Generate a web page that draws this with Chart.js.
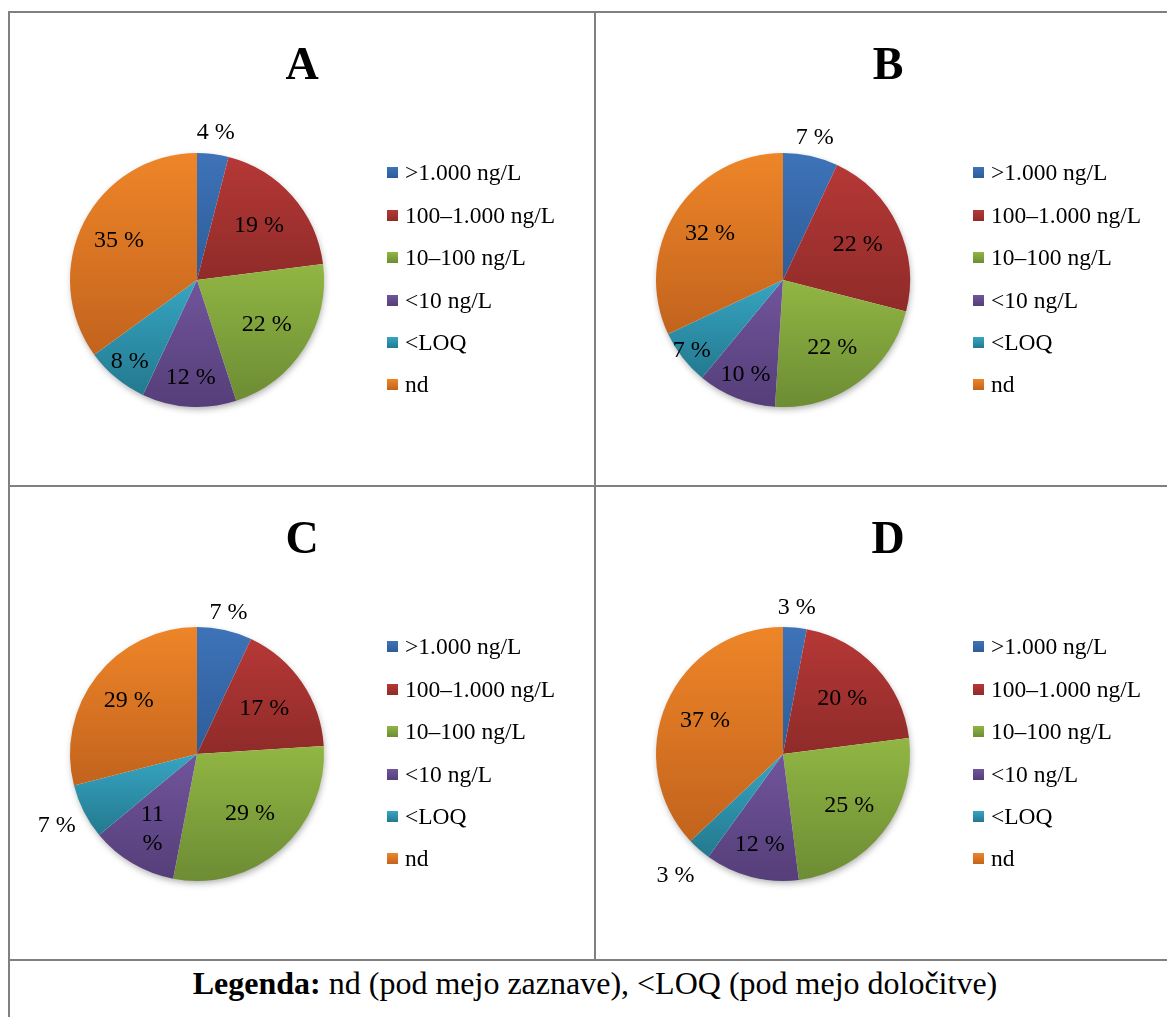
<!DOCTYPE html>
<html>
<head>
<meta charset="utf-8">
<title>Pie charts A–D</title>
<script src="https://cdn.jsdelivr.net/npm/chart.js@4.4.1/dist/chart.umd.min.js"></script>
<style>
  html, body { margin: 0; padding: 0; background: #fff; overflow: hidden; }
  body { width: 1167px; height: 1017px; position: relative; font-family: "Liberation Serif", "Times New Roman", serif; color: #000; }
  .rule { position: absolute; background: #808080; }
  .cell { position: absolute; width: 584px; height: 472px; }
  .cell canvas { position: absolute; left: 0; top: 0; }
  .panel-title { position: absolute; left: 0; top: 23px; width: 584px; text-align: center; font-size: 46px; font-weight: bold; line-height: 55px; }
  .legend { position: absolute; left: 377px; top: 138.8px; margin: 0; padding: 0; list-style: none; }
  .legend li { height: 42.4px; display: flex; align-items: center; font-size: 23.5px; white-space: nowrap; }
  .legend .sw { width: 11px; height: 11px; margin-right: 7px; flex: none; }
  .note { position: absolute; left: 10px; top: 963px; width: 1170px; text-align: center; font-size: 32px; line-height: 40px; white-space: nowrap; }
</style>
</head>
<body>
<!-- table rules -->
<div class="rule" style="left:8px;top:11px;width:1159px;height:2px;"></div>
<div class="rule" style="left:8px;top:11px;width:2px;height:1006px;"></div>
<div class="rule" style="left:594px;top:11px;width:2px;height:950px;"></div>
<div class="rule" style="left:8px;top:485px;width:1159px;height:2px;"></div>
<div class="rule" style="left:8px;top:959px;width:1159px;height:2px;"></div>

<div class="cell" id="cellA" style="left:10px;top:13px;"></div>
<div class="cell" id="cellB" style="left:596px;top:13px;"></div>
<div class="cell" id="cellC" style="left:10px;top:487px;"></div>
<div class="cell" id="cellD" style="left:596px;top:487px;"></div>

<div class="note" id="note"></div>

<script>
// Concentration classes shared by all four panels
const categories = ['>1.000 ng/L', '100–1.000 ng/L', '10–100 ng/L', '<10 ng/L', '<LOQ', 'nd'];
const panelNames = ['A', 'B', 'C', 'D'];

// Share of samples in each class (%)
const valuesA = [4, 19, 22, 12, 8, 35];
const valuesB = [7, 22, 22, 10, 7, 32];
const valuesC = [7, 17, 29, 11, 7, 29];
const valuesD = [3, 20, 25, 12, 3, 37];

const noteBold = 'Legenda:';
const noteRest = ' nd (pod mejo zaznave), <LOQ (pod mejo določitve)';

// Slice fill: lighter at the top of each slice, darker at its bottom
const colorTop    = ['#3e73b9', '#b53836', '#91b643', '#71559c', '#37a5c2', '#ee8528'];
const colorBottom = ['#2d5c98', '#8f2b29', '#6d8c34', '#553e79', '#23798f', '#c2631d'];

// Distance of each value label from the centre, as a fraction of the radius
const labelRadius = {
  A: [1.17, 0.65, 0.65, 0.77, 0.83, 0.69],
  B: [1.15, 0.65, 0.66, 0.80, 0.91, 0.68],
  C: [1.14, 0.64, 0.63, 0.69, 1.24, 0.68],
  D: [1.16, 0.64, 0.66, 0.74, 1.28, 0.67]
};
// Labels broken onto two lines (narrow slices)
const labelWrap = { C: [false, false, false, true, false, false] };

const panelValues = { A: valuesA, B: valuesB, C: valuesC, D: valuesD };

const FONT = '"Liberation Serif", "Times New Roman", serif';
const CANVAS_W = 584, CANVAS_H = 472;
const PIE_LEFT = 60, PIE_TOP = 140, PIE_SIZE = 254;

// Vertical gradient spanning one slice
function sliceFill(context, values) {
  const chart = context.chart;
  const area = chart.chartArea;
  const i = context.dataIndex;
  if (!area) return colorTop[i];
  const cx = (area.left + area.right) / 2;
  const cy = (area.top + area.bottom) / 2;
  const r = Math.min(area.right - area.left, area.bottom - area.top) / 2;
  const total = values.reduce((a, b) => a + b, 0);
  let start = -Math.PI / 2;
  for (let k = 0; k < i; k++) start += values[k] / total * Math.PI * 2;
  const end = start + values[i] / total * Math.PI * 2;
  let ymin = cy, ymax = cy;
  for (let s = 0; s <= 48; s++) {
    const a = start + (end - start) * s / 48;
    const y = cy + r * Math.sin(a);
    ymin = Math.min(ymin, y);
    ymax = Math.max(ymax, y);
  }
  const g = chart.ctx.createLinearGradient(0, ymin, 0, Math.max(ymax, ymin + 1));
  g.addColorStop(0, colorTop[i]);
  g.addColorStop(1, colorBottom[i]);
  return g;
}

// Soft drop shadow under the pie
const pieShadow = {
  id: 'pieShadow',
  beforeDatasetsDraw(chart) {
    const arc = chart.getDatasetMeta(0).data[0];
    if (!arc) return;
    const ctx = chart.ctx;
    ctx.save();
    ctx.shadowColor = 'rgba(0,0,0,0.35)';
    ctx.shadowBlur = 7;
    ctx.shadowOffsetX = 1;
    ctx.shadowOffsetY = 3;
    ctx.fillStyle = '#ffffff';
    ctx.beginPath();
    ctx.arc(arc.x, arc.y, arc.outerRadius - 1, 0, Math.PI * 2);
    ctx.fill();
    ctx.restore();
  }
};

// Percentage labels placed along each slice's bisector
const valueLabels = {
  id: 'valueLabels',
  afterDatasetsDraw(chart, args, opts) {
    const ctx = chart.ctx;
    const meta = chart.getDatasetMeta(0);
    const values = chart.data.datasets[0].data;
    ctx.save();
    ctx.font = '24px ' + FONT;
    ctx.fillStyle = '#000';
    ctx.textAlign = 'center';
    ctx.textBaseline = 'middle';
    meta.data.forEach((arc, i) => {
      const mid = (arc.startAngle + arc.endAngle) / 2;
      const d = arc.outerRadius * opts.radius[i];
      const x = arc.x + Math.cos(mid) * d;
      const y = arc.y + Math.sin(mid) * d;
      const wrap = opts.wrap && opts.wrap[i];
      if (wrap) {
        ctx.fillText(String(values[i]), x, y - 14.5);
        ctx.fillText('%', x, y + 14.5);
      } else {
        ctx.fillText(values[i] + ' %', x, y);
      }
    });
    ctx.restore();
  }
};

function buildPanel(name) {
  const cell = document.getElementById('cell' + name);
  const values = panelValues[name];

  const canvas = document.createElement('canvas');
  canvas.width = CANVAS_W;
  canvas.height = CANVAS_H;
  canvas.style.width = CANVAS_W + 'px';
  canvas.style.height = CANVAS_H + 'px';
  cell.appendChild(canvas);

  const title = document.createElement('div');
  title.className = 'panel-title';
  title.textContent = name;
  cell.appendChild(title);

  const legend = document.createElement('ul');
  legend.className = 'legend';
  categories.forEach((c, i) => {
    const li = document.createElement('li');
    const sw = document.createElement('span');
    sw.className = 'sw';
    sw.style.background = 'linear-gradient(' + colorTop[i] + ',' + colorBottom[i] + ')';
    const tx = document.createElement('span');
    tx.textContent = c;
    li.appendChild(sw);
    li.appendChild(tx);
    legend.appendChild(li);
  });
  cell.appendChild(legend);

  new Chart(canvas, {
    type: 'pie',
    data: {
      labels: categories,
      datasets: [{
        data: values,
        backgroundColor: (ctx) => sliceFill(ctx, values),
        borderWidth: 0,
        hoverOffset: 0
      }]
    },
    options: {
      responsive: false,
      animation: false,
      devicePixelRatio: 1,
      rotation: 0,
      layout: {
        padding: {
          left: PIE_LEFT,
          top: PIE_TOP,
          right: CANVAS_W - PIE_LEFT - PIE_SIZE,
          bottom: CANVAS_H - PIE_TOP - PIE_SIZE
        }
      },
      plugins: {
        legend: { display: false },
        title: { display: false },
        tooltip: { enabled: false },
        valueLabels: { radius: labelRadius[name], wrap: labelWrap[name] }
      }
    },
    plugins: [pieShadow, valueLabels]
  });
}

panelNames.forEach(buildPanel);

const note = document.getElementById('note');
const b = document.createElement('b');
b.textContent = noteBold;
note.appendChild(b);
note.appendChild(document.createTextNode(noteRest));
</script>
</body>
</html>
